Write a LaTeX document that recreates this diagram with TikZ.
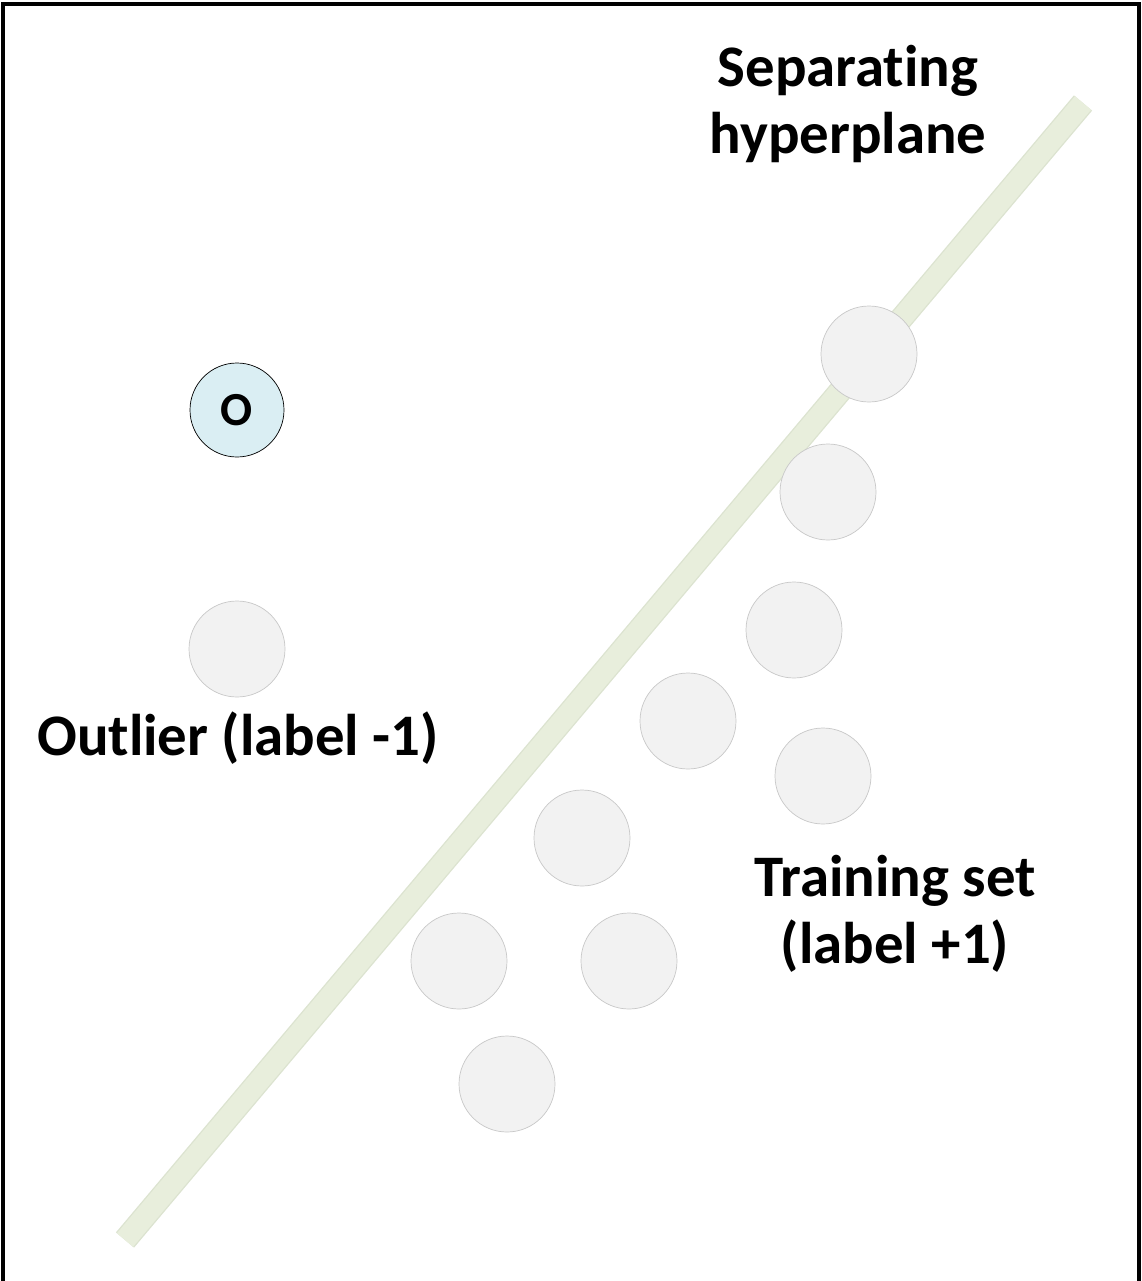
\documentclass[tikz,border=0pt]{standalone}
\usepackage{fontspec}
\setmainfont{Carlito}[Ligatures=NoCommon]
\usepackage{xcolor}
\definecolor{planefill}{HTML}{E8EEDC}
\definecolor{planeedge}{HTML}{DCE3D0}
\definecolor{pointfill}{HTML}{F2F2F2}
\definecolor{pointedge}{HTML}{C8C8C8}
\definecolor{outfill}{HTML}{DAEEF3}

\begin{document}
\begin{tikzpicture}[
    x=0.02cm, y=-0.02cm,
    point/.style={circle, draw=pointedge, fill=pointfill, minimum size=96*0.02cm, inner sep=0pt},
    outpoint/.style={circle, draw=black, fill=outfill, minimum size=94*0.02cm, inner sep=0pt, font=\fontsize{27}{27}\selectfont\bfseries},
    caption/.style={align=center, font=\fontsize{33.5}{38}\selectfont\bfseries}
]
    % Frame
    \useasboundingbox (0,0) rectangle (1142,1281);
    \draw[line width=2.5pt] (3,1300) -- (3,4) -- (1139,4) -- (1139,1300);

    % Separating hyperplane
    \coordinate (planeA) at (125,1240);
    \coordinate (planeB) at (1083,103);
    \draw[planeedge, line width=22*0.02cm+1pt] (planeA) -- (planeB);
    \draw[planefill, line width=22*0.02cm-0.5pt] (planeA) -- (planeB);

    % Training set
    \node[point] (p1) at (869,354) {};
    \node[point] (p2) at (828,492) {};
    \node[point] (p3) at (794,630) {};
    \node[point] (p4) at (688,721) {};
    \node[point] (p5) at (823,776) {};
    \node[point] (p6) at (582,838) {};
    \node[point] (p7) at (459,961) {};
    \node[point] (p8) at (629,961) {};
    \node[point] (p9) at (507,1084) {};

    % Outlier
    \node[outpoint] (origin) at (237,410) {O};
    \node[point] (outlier) at (237,649) {};

    % Labels
    \node[caption] (planelabel) at (848,104) {Separating\\hyperplane};
    \node[caption] (outlabel) at (238,738) {Outlier (label -1)};
    \node[caption] (trainlabel) at (895,914) {Training set\\(label +1)};
\end{tikzpicture}
\end{document}
